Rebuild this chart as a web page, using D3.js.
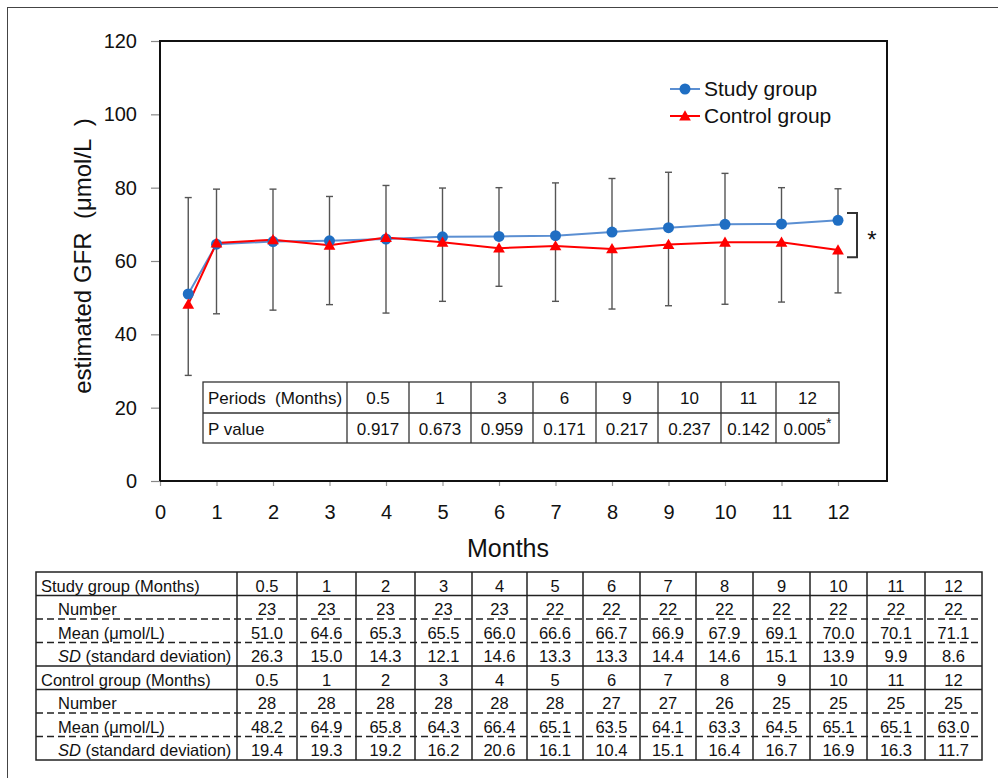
<!DOCTYPE html>
<html>
<head>
<meta charset="utf-8">
<script src="https://cdn.jsdelivr.net/npm/d3@7"></script>
<style>
  body { margin: 0; background: #fff; }
  svg { display: block; font-family: "Liberation Sans", Arial, sans-serif; }
</style>
</head>
<body>
<div id="chart"></div>
<script>
// data
var months = [0.5, 1, 2, 3, 4, 5, 6, 7, 8, 9, 10, 11, 12];
var studyN = [23, 23, 23, 23, 23, 22, 22, 22, 22, 22, 22, 22, 22];
var studyMean = [51.0, 64.6, 65.3, 65.5, 66.0, 66.6, 66.7, 66.9, 67.9, 69.1, 70.0, 70.1, 71.1];
var studySD = [26.3, 15.0, 14.3, 12.1, 14.6, 13.3, 13.3, 14.4, 14.6, 15.1, 13.9, 9.9, 8.6];
var controlN = [28, 28, 28, 28, 28, 28, 27, 27, 26, 25, 25, 25, 25];
var controlMean = [48.2, 64.9, 65.8, 64.3, 66.4, 65.1, 63.5, 64.1, 63.3, 64.5, 65.1, 65.1, 63.0];
var controlSD = [19.4, 19.3, 19.2, 16.2, 20.6, 16.1, 10.4, 15.1, 16.4, 16.7, 16.9, 16.3, 11.7];
var pPeriods = ["0.5", "1", "3", "6", "9", "10", "11", "12"];
var pValues = ["0.917", "0.673", "0.959", "0.171", "0.217", "0.237", "0.142", "0.005"];
var pSignificant = [false, false, false, false, false, false, false, true];
var yTicks = [0, 20, 40, 60, 80, 100, 120];
var xTicks = [0, 1, 2, 3, 4, 5, 6, 7, 8, 9, 10, 11, 12];

var width = 998;
var height = 778;
var plotLeft = 160, plotRight = 887, plotTop = 41, plotBottom = 481;

var svg = d3.select("#chart").append("svg")
    .attr("width", width).attr("height", height);

// outer frame
svg.append("rect")
    .attr("x", 7.5).attr("y", 7.5)
    .attr("width", 1000).attr("height", 800)
    .attr("fill", "none").attr("stroke", "#444").attr("stroke-width", 1);

var x = d3.scaleLinear().domain([0, 12]).range([plotLeft, 838]);
var y = d3.scaleLinear().domain([0, 120]).range([plotBottom, plotTop]);

// axes
var yAxis = svg.append("g")
    .attr("transform", "translate(" + plotLeft + ",0)")
    .call(d3.axisLeft(y).tickValues(yTicks).tickSize(9).tickPadding(14));
yAxis.select(".domain").remove();
yAxis.selectAll(".tick line").attr("stroke", "#888").attr("stroke-width", 1.2);
yAxis.selectAll("text").attr("font-size", 20).attr("fill", "#111")
    .attr("font-family", "Liberation Sans, Arial, sans-serif");

var xAxis = svg.append("g")
    .attr("transform", "translate(0," + plotBottom + ")")
    .call(d3.axisBottom(x).tickValues(xTicks).tickSize(5).tickPadding(19));
xAxis.select(".domain").remove();
xAxis.selectAll(".tick line").attr("stroke", "#999").attr("stroke-width", 1.2);
xAxis.selectAll("text").attr("font-size", 20).attr("fill", "#111")
    .attr("font-family", "Liberation Sans, Arial, sans-serif");

// plot frame
svg.append("path")
    .attr("d", "M" + plotLeft + "," + plotBottom + "V" + plotTop + "H" + plotRight + "V" + plotBottom + "H" + plotLeft)
    .attr("fill", "none").attr("stroke", "#111").attr("stroke-width", 2);

// axis titles
svg.append("text")
    .attr("transform", "translate(91,256) rotate(-90)")
    .attr("text-anchor", "middle").attr("xml:space", "preserve")
    .attr("font-size", 24).attr("fill", "#111")
    .text("estimated GFR  (\u03bcmol/L  )");

svg.append("text")
    .attr("x", 508).attr("y", 557)
    .attr("text-anchor", "middle")
    .attr("font-size", 25).attr("fill", "#111")
    .text("Months");

// error bars: study upward, control downward
var capW = 3.5;
function errorBar(mx, y1, y2) {
    var g = svg.append("g").attr("stroke", "#555").attr("stroke-width", 1.4);
    g.append("line").attr("x1", x(mx)).attr("x2", x(mx)).attr("y1", y(y1)).attr("y2", y(y2));
    g.append("line").attr("x1", x(mx) - capW).attr("x2", x(mx) + capW).attr("y1", y(y2)).attr("y2", y(y2));
}
months.forEach(function(m, i) {
    errorBar(m, studyMean[i], studyMean[i] + studySD[i]);
    errorBar(m, controlMean[i], controlMean[i] - controlSD[i]);
});

var line = d3.line().x(function(d) { return x(d[0]); }).y(function(d) { return y(d[1]); });
var studyPts = months.map(function(m, i) { return [m, studyMean[i]]; });
var controlPts = months.map(function(m, i) { return [m, controlMean[i]]; });

svg.append("path").attr("d", line(studyPts))
    .attr("fill", "none").attr("stroke", "#5b8fd2").attr("stroke-width", 2);
svg.append("path").attr("d", line(controlPts))
    .attr("fill", "none").attr("stroke", "#ff0000").attr("stroke-width", 2);

var tri = d3.symbol().type(d3.symbolTriangle).size(60);

svg.selectAll(".study-pt").data(studyPts).enter().append("circle")
    .attr("cx", function(d) { return x(d[0]); })
    .attr("cy", function(d) { return y(d[1]); })
    .attr("r", 5.5).attr("fill", "#1f6ec3");
svg.selectAll(".control-pt").data(controlPts).enter().append("path")
    .attr("d", tri)
    .attr("transform", function(d) { return "translate(" + x(d[0]) + "," + (y(d[1]) + 1) + ")"; })
    .attr("fill", "#ff0000");

// legend
var legend = [
    { name: "Study group", color: "#5b8fd2", marker: "circle", yy: 89 },
    { name: "Control group", color: "#ff0000", marker: "tri", yy: 116 }
];
legend.forEach(function(l) {
    svg.append("line").attr("x1", 670).attr("x2", 700).attr("y1", l.yy).attr("y2", l.yy)
        .attr("stroke", l.color).attr("stroke-width", 2);
    if (l.marker == "circle") {
        svg.append("circle").attr("cx", 685).attr("cy", l.yy).attr("r", 5.5).attr("fill", "#1f6ec3");
    } else {
        svg.append("path").attr("d", tri).attr("transform", "translate(685," + (l.yy + 1) + ")").attr("fill", "#ff0000");
    }
    svg.append("text").attr("x", 704).attr("y", l.yy + 7)
        .attr("font-size", 21).attr("fill", "#111").text(l.name);
});

// significance bracket at 12 months
var last = months.length - 1;
var bTop = y(studyMean[last] + 2), bBot = y(controlMean[last] - 2);
svg.append("path")
    .attr("d", "M847," + bTop + "H857V" + bBot + "H847")
    .attr("fill", "none").attr("stroke", "#333").attr("stroke-width", 2);
svg.append("text").attr("x", 872).attr("y", (bTop + bBot) / 2 + 13)
    .attr("text-anchor", "middle").attr("font-size", 24).attr("fill", "#111").text("*");

// P value table inside the plot
var pCols = [203, 347, 409, 471, 533, 596, 658, 721, 776, 839];
var pRows = [382, 413, 443];
var pg = svg.append("g").attr("font-size", 17).attr("fill", "#111");
pg.append("rect").attr("x", pCols[0]).attr("y", pRows[0])
    .attr("width", pCols[pCols.length - 1] - pCols[0]).attr("height", pRows[2] - pRows[0])
    .attr("fill", "#fff").attr("stroke", "#333").attr("stroke-width", 1.3);
pg.append("line").attr("x1", pCols[0]).attr("x2", pCols[pCols.length - 1])
    .attr("y1", pRows[1]).attr("y2", pRows[1]).attr("stroke", "#333").attr("stroke-width", 1.3);
pCols.slice(1, -1).forEach(function(c) {
    pg.append("line").attr("x1", c).attr("x2", c).attr("y1", pRows[0]).attr("y2", pRows[2])
        .attr("stroke", "#333").attr("stroke-width", 1.3);
});
pg.append("text").attr("x", pCols[0] + 5).attr("y", pRows[1] - 9).attr("xml:space", "preserve")
    .text("Periods  (Months)");
pg.append("text").attr("x", pCols[0] + 5).attr("y", pRows[2] - 8).text("P value");
pPeriods.forEach(function(p, i) {
    var cx = (pCols[i + 1] + pCols[i + 2]) / 2;
    pg.append("text").attr("x", cx).attr("y", pRows[1] - 9).attr("text-anchor", "middle").text(p);
    var t = pg.append("text").attr("x", cx).attr("y", pRows[2] - 8).attr("text-anchor", "middle");
    t.append("tspan").text(pValues[i]);
    if (pSignificant[i]) {
        t.append("tspan").attr("dy", -7).attr("font-size", 14).text("*");
    }
});

// data table below the chart
var tCols = [36, 237, 297, 356, 415, 472, 527, 583, 640, 696, 753, 810, 867, 925, 982];
var tTop = 572, rowH = 23.5;
var tg = svg.append("g").attr("font-size", 16.5).attr("fill", "#111");
var monthLabels = months.map(String);
var rows = [
    { label: "Study group (Months)", vals: monthLabels, indent: 5 },
    { label: "Number", vals: studyN, indent: 22 },
    { label: "Mean (\u03bcmol/L)", vals: studyMean.map(function(v) { return v.toFixed(1); }), indent: 22 },
    { label: "SD", rest: " (standard deviation)", vals: studySD.map(function(v) { return v.toFixed(1); }), indent: 22 },
    { label: "Control group (Months)", vals: monthLabels, indent: 5 },
    { label: "Number", vals: controlN, indent: 22 },
    { label: "Mean (\u03bcmol/L)", vals: controlMean.map(function(v) { return v.toFixed(1); }), indent: 22 },
    { label: "SD", rest: " (standard deviation)", vals: controlSD.map(function(v) { return v.toFixed(1); }), indent: 22 }
];
var tBottom = tTop + rowH * rows.length;
tg.append("rect").attr("x", tCols[0]).attr("y", tTop)
    .attr("width", tCols[tCols.length - 1] - tCols[0]).attr("height", tBottom - tTop)
    .attr("fill", "none").attr("stroke", "#222").attr("stroke-width", 1.5);
tCols.slice(1, -1).forEach(function(c) {
    tg.append("line").attr("x1", c).attr("x2", c).attr("y1", tTop).attr("y2", tBottom)
        .attr("stroke", "#222").attr("stroke-width", 1.5);
});
rows.forEach(function(r, i) {
    var rowY = tTop + rowH * i;
    if (i > 0) {
        var dashed = (i % 4 == 2 || i % 4 == 3);
        tg.append("line").attr("x1", tCols[0]).attr("x2", tCols[tCols.length - 1])
            .attr("y1", rowY).attr("y2", rowY)
            .attr("stroke", "#222").attr("stroke-width", dashed ? 1.3 : 1.5)
            .attr("stroke-dasharray", dashed ? "7,4" : null);
    }
    var by = rowY + rowH - 4;
    var lt = tg.append("text").attr("x", tCols[0] + r.indent).attr("y", by);
    if (r.rest) {
        lt.append("tspan").attr("font-style", "italic").text(r.label);
        lt.append("tspan").text(r.rest);
    } else {
        lt.text(r.label);
    }
    r.vals.forEach(function(v, j) {
        tg.append("text").attr("x", (tCols[j + 1] + tCols[j + 2]) / 2).attr("y", by)
            .attr("text-anchor", "middle").text(v);
    });
});
</script>
</body>
</html>
